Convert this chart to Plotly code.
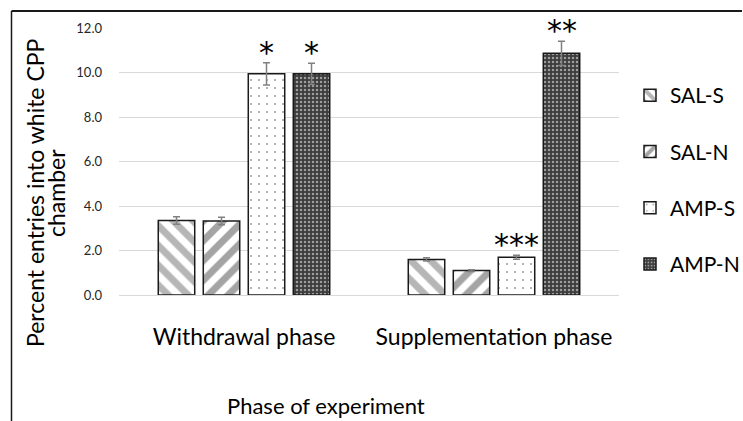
import plotly.graph_objects as go

categories = ["Withdrawal phase", "Supplementation phase"]
series_names = ["SAL-S", "SAL-N", "AMP-S", "AMP-N"]
sal_s = [3.35, 1.60]
sal_n = [3.33, 1.10]
amp_s = [9.94, 1.70]
amp_n = [9.94, 10.86]
sal_s_err = [0.17, 0.07]
sal_n_err = [0.17, 0.04]
amp_s_err = [0.50, 0.09]
amp_n_err = [0.48, 0.55]
sal_s_sig = ["", ""]
sal_n_sig = ["", ""]
amp_s_sig = ["*", "***"]
amp_n_sig = ["*", "**"]
y_ticks = [0, 2, 4, 6, 8, 10, 12]
y_title_lines = ["Percent entries into white CPP", "chamber"]
x_title = "Phase of experiment"

values = [sal_s, sal_n, amp_s, amp_n]
errors = [sal_s_err, sal_n_err, amp_s_err, amp_n_err]
sigs = [sal_s_sig, sal_n_sig, amp_s_sig, amp_n_sig]

patterns = [
    dict(shape="\\", fgcolor="#6e6e6e", bgcolor="white", size=14, solidity=0.5),
    dict(shape="/", fgcolor="#4a4a4a", bgcolor="white", size=14, solidity=0.5),
    dict(shape=".", fgcolor="#333333", bgcolor="white", size=8, solidity=0.05),
    dict(shape=".", fgcolor="#ffffff", bgcolor="#3c3c3c", size=4, solidity=0.3),
]

FONT = "Lato"
fig = go.Figure()
for i, name in enumerate(series_names):
    fig.add_trace(go.Bar(
        name=name, x=categories, y=values[i],
        marker=dict(color="white", pattern=patterns[i],
                    line=dict(color="#1a1a1a", width=1.5)),
        error_y=dict(type="data", array=errors[i], visible=True,
                     color="#808080", thickness=1.5, width=3.5),
        legendgroup=name,
    ))

bargap = 0.28
slot = (1 - bargap) / len(series_names)
for i in range(len(series_names)):
    for j in range(len(categories)):
        if sigs[i][j]:
            xpos = j - (1 - bargap) / 2 + slot * (i + 0.5)
            fig.add_annotation(
                x=xpos, y=values[i][j] + errors[i][j], xref="x", yref="y",
                text=sigs[i][j], showarrow=False, yanchor="bottom",
                yshift=-9, font=dict(family="DejaVu Sans", size=30, color="black"),
            )

# axis titles as annotations
for k, (line, xc) in enumerate(zip(y_title_lines, [35, 56])):
    fig.add_annotation(
        x=(xc - 119) / 500, y=(295 - 193) / 267, xref="paper", yref="paper", textangle=-90,
        text=line, showarrow=False,
        font=dict(family=FONT, size=23, color="black"), xanchor="center", yanchor="middle",
    )
fig.add_annotation(
    x=(326 - 119) / 500, y=(295 - 405) / 267, xref="paper", yref="paper",
    text=x_title, showarrow=False,
    font=dict(family=FONT, size=22, color="black"), xanchor="center", yanchor="middle",
)

# outer frame: top and left edges (pixel-sized via yanchor/ysizemode)
left = (11.5 - 119) / 500
fig.add_shape(type="line", xref="paper", yref="paper", x0=left, x1=(742 - 119) / 500,
              y0=(295 - 11) / 267, y1=(295 - 11) / 267,
              line=dict(color="#1a1a1a", width=2), layer="above")
fig.add_shape(type="line", xref="paper", yref="paper", x0=left, x1=left,
              y0=-0.5, y1=(295 - 11) / 267, line=dict(color="#1a1a1a", width=1.5), layer="above")

fig.update_layout(
    width=743, height=421,
    margin=dict(l=119, r=124, t=28, b=126, autoexpand=False),
    barmode="group", bargap=bargap, bargroupgap=0.19,
    plot_bgcolor="white", paper_bgcolor="white",
    font=dict(family=FONT, color="black"),
    showlegend=True,
    legend=dict(xref="container", yref="container", x=630 / 743, y=1 - 75 / 421,
                xanchor="left", yanchor="top",
                font=dict(family=FONT, size=21, color="black"),
                tracegroupgap=26, traceorder="grouped", bgcolor="rgba(0,0,0,0)"),
    xaxis=dict(showgrid=False, showline=False, ticks="", zeroline=False,
               ticklabelstandoff=26,
               tickfont=dict(family=FONT, size=23, color="black")),
    yaxis=dict(range=[0, 12], tickvals=y_ticks, tickformat=".1f",
               showgrid=True, gridcolor="#d9d9d9", gridwidth=1,
               zeroline=True, zerolinecolor="#d9d9d9", zerolinewidth=1,
               showline=False, ticks="", ticklabelstandoff=16,
               tickfont=dict(family=FONT, size=13, color="#262626")),
)

fig.write_html("out.html", config={"displayModeBar": False},
               post_script="document.body.style.margin='0';")
